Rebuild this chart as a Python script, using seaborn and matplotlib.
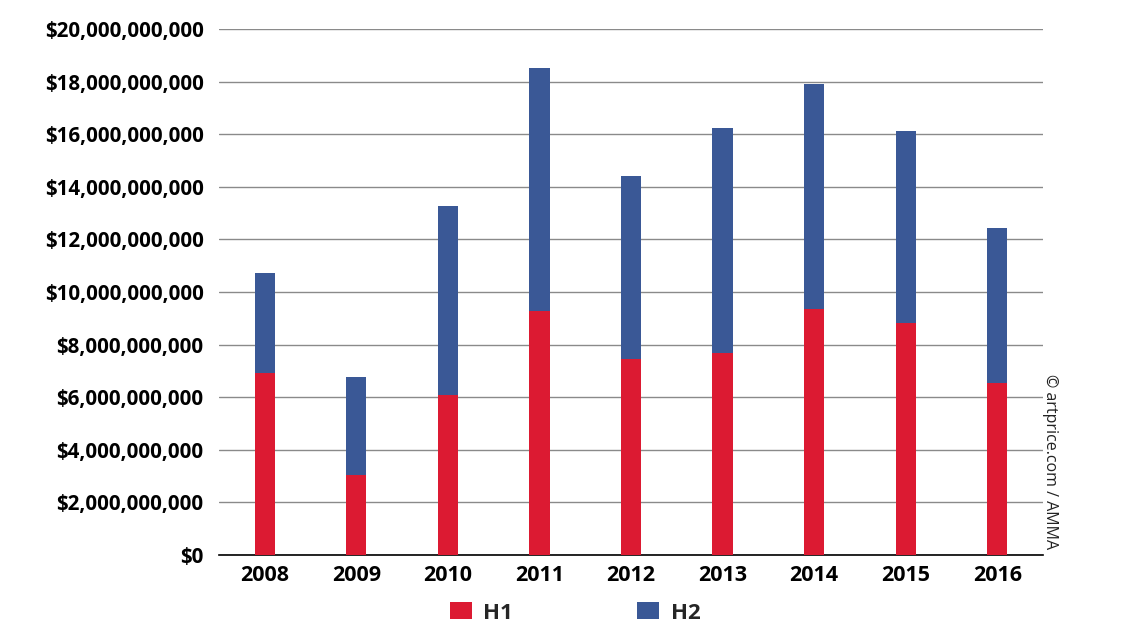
import matplotlib
matplotlib.use("Agg")
import matplotlib.pyplot as plt
import seaborn as sns
import pandas as pd
import numpy as np
from matplotlib.patches import Patch
from matplotlib.ticker import FuncFormatter, MultipleLocator

years = ["2008", "2009", "2010", "2011", "2012", "2013", "2014", "2015", "2016"]
h1 = [6.92e9, 3.04e9, 6.08e9, 9.28e9, 7.45e9, 7.68e9, 9.35e9, 8.82e9, 6.54e9]
h2 = [3.80e9, 3.73e9, 7.19e9, 9.24e9, 6.96e9, 8.56e9, 8.56e9, 7.30e9, 5.89e9]

RED = "#DC1A32"
BLUE = "#3A5896"

sns.set_theme(style="white")
plt.rcParams["font.family"] = ["Open Sans", "DejaVu Sans"]

df = pd.DataFrame({"year": years, "H1": h1, "H2": h2})
df["total"] = df["H1"] + df["H2"]

fig = plt.figure(figsize=(11.4, 6.36), dpi=100)
ax = fig.add_axes([219 / 1140, 1 - 555 / 636, (1043 - 219) / 1140, (555 - 29) / 636])

sns.barplot(data=df, x="year", y="total", color=BLUE, width=0.22, saturation=1,
            ax=ax, zorder=3, edgecolor="none")
sns.barplot(data=df, x="year", y="H1", color=RED, width=0.22, saturation=1,
            ax=ax, zorder=4, edgecolor="none")

ax.set_ylim(0, 20e9)
ax.set_xlim(-0.5, len(years) - 0.5)
ax.yaxis.set_major_locator(MultipleLocator(2e9))
ax.yaxis.set_major_formatter(FuncFormatter(lambda v, p: "${:,.0f}".format(v)))
ax.grid(axis="y", color="#8a8a8a", linewidth=1.0, zorder=0)
ax.grid(axis="x", visible=False)
for s in ["top", "right", "left"]:
    ax.spines[s].set_visible(False)
ax.spines["bottom"].set_color("black")
ax.spines["bottom"].set_linewidth(1.2)
ax.set_xlabel("")
ax.set_ylabel("")

ax.tick_params(axis="y", length=0, pad=11, labelsize=14.8, labelcolor="black")
ax.tick_params(axis="x", length=0, pad=7, labelsize=15.5, labelcolor="black")
for lbl in ax.get_yticklabels() + ax.get_xticklabels():
    lbl.set_fontweight("bold")

# category boundary ticks
ax.set_xticks(np.arange(-0.5, len(years), 1.0), minor=True)
ax.tick_params(axis="x", which="minor", length=5, width=1, color="#555555", direction="out")

handles = [Patch(facecolor=RED, edgecolor="none", label="H1"),
           Patch(facecolor=BLUE, edgecolor="none", label="H2")]
leg = fig.legend(handles=handles, loc="center", bbox_to_anchor=(575 / 1140, 1 - 613 / 636),
                 ncol=2, frameon=False, columnspacing=5.6, handlelength=1.0, handleheight=0.8,
                 handletextpad=0.5, prop={"weight": "bold", "size": 16})

fig.text(1050 / 1140, 1 - 462 / 636, "© artprice.com / AMMA", rotation=-90,
         ha="center", va="center", fontsize=11.5, color="#222222")

fig.savefig("out.png", dpi=100)
